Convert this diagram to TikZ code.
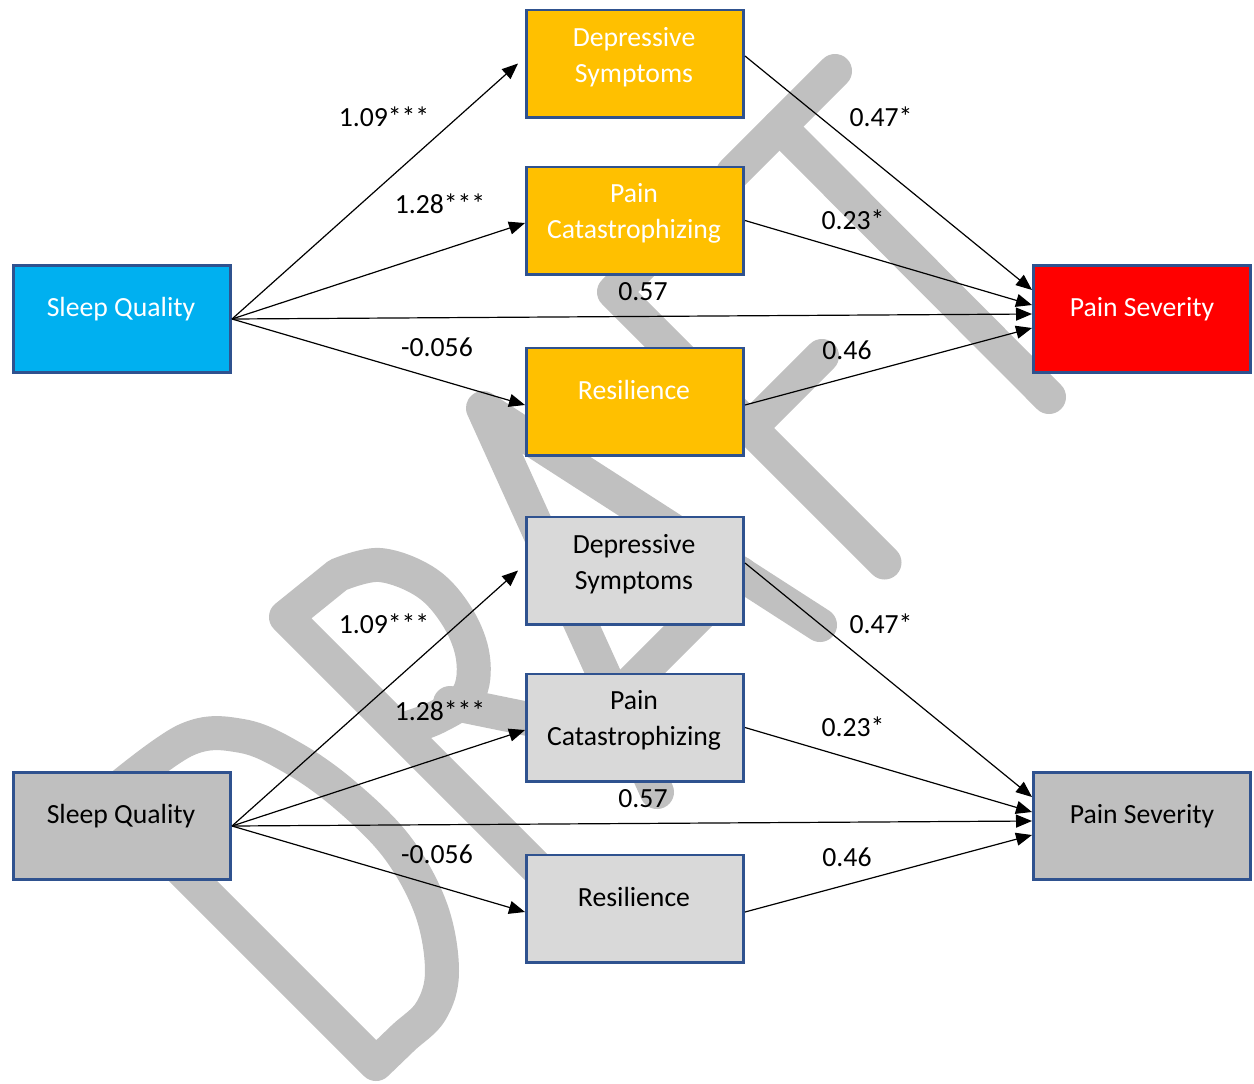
\documentclass[tikz,border=0pt]{standalone}
\usepackage{fontspec}
\setmainfont{Carlito}
\usetikzlibrary{arrows.meta}
\definecolor{wm}{RGB}{192,192,192}
\definecolor{bord}{RGB}{47,82,143}
\definecolor{cyanb}{RGB}{0,176,240}
\definecolor{goldb}{RGB}{255,192,0}
\definecolor{redb}{RGB}{255,0,0}
\definecolor{grayd}{RGB}{191,191,191}
\definecolor{grayl}{RGB}{217,217,217}
\begin{document}
\begin{tikzpicture}[x=0.5pt,y=-0.5pt,
  box/.style={draw=bord, line width=1.4pt, minimum width=108.6pt, minimum height=53.6pt, inner sep=0pt},
  wtxt/.style={font=\fontsize{13.85}{18}\selectfont, align=center, inner sep=0pt, text=white},
  btxt/.style={font=\fontsize{13.85}{18}\selectfont, align=center, inner sep=0pt, text=black},
  lab/.style={font=\fontsize{13.85}{18}\selectfont, inner sep=0pt},
  arr/.style={line width=0.6pt, -{Triangle[length=8pt,width=6.5pt]}},
  wmark/.style={draw=wm, line width=17pt, line cap=round, line join=round}
]
\useasboundingbox (0,0) rectangle (1254,1083);
\fill[white] (0,0) rectangle (1254,1083);

% ---------- DRAFT watermark ----------
% D
\draw[wmark] plot[smooth, tension=0.6] coordinates {(108.5,796.5) (186,740) (242,736) (293,758) (345,795) (397,847) (431,909) (442,971) (431,1011) (403,1038) (376,1064)} -- cycle;
% R
\draw[wmark] (557,888) -- (286,617) -- plot[smooth, tension=0.6] coordinates {(338,575) (380,565) (427,583) (458,618) (473,658) (468,695) (437,717) (399.5,730.5)};
\draw[wmark] (450,703) -- (690,752);
% A
\draw[wmark] (657,792) -- (483,408) -- (820,625);
\draw[wmark] (615,699) -- (740.5,573.5);
% F
\draw[wmark] (884.5,562.5) -- (614,292) -- (713,193);
\draw[wmark] (750,428) -- (822,356);
% T
\draw[wmark] (733,173) -- (835,71);
\draw[wmark] (779.5,126.5) -- (1049,397);

% ---------- top model ----------
\node[box, fill=cyanb] (sq1) at (122,319) {};
\node[box, fill=goldb] (dep1) at (635,63.5) {};
\node[box, fill=goldb] (pc1) at (635,220.5) {};
\node[box, fill=goldb] (res1) at (635,401.5) {};
\node[box, fill=redb] (ps1) at (1142,319) {};

\draw[arr] (sq1.east) -- ([xshift=-3.5pt]dep1.west);
\draw[arr] (sq1.east) -- ([yshift=-1.25pt]pc1.west);
\draw[arr] (sq1.east) -- ([yshift=2.5pt]ps1.west);
\draw[arr] (sq1.east) -- ([yshift=-1.75pt]res1.west);
\draw[arr] ([yshift=3.75pt]dep1.east) -- ([yshift=14.5pt]ps1.west);
\draw[arr] (pc1.east) -- ([yshift=7pt]ps1.west);
\draw[arr] ([yshift=-1.75pt]res1.east) -- ([yshift=-4.5pt]ps1.west);

\node[wtxt] (sq1t) at (121,309) {Sleep Quality};
\node[wtxt] (dep1t) at (634,57) {Depressive\\Symptoms};
\node[wtxt] (pc1t) at (634,213) {Pain\\Catastrophizing};
\node[wtxt] (res1t) at (634,390) {Resilience};
\node[wtxt] (ps1t) at (1142,309) {Pain Severity};

\node[lab] (a1) at (384,117) {1.09***};
\node[lab] (b1) at (440,204) {1.28***};
\node[lab] (c1) at (643,292) {0.57};
\node[lab] (d1) at (437,347) {-0.056};
\node[lab] (e1) at (881,117) {0.47*};
\node[lab] (f1) at (853,220) {0.23*};
\node[lab] (g1) at (847,350) {0.46};

% ---------- bottom model ----------
\node[box, fill=grayd] (sq2) at (122,826) {};
\node[box, fill=grayl] (dep2) at (635,570.5) {};
\node[box, fill=grayl] (pc2) at (635,727.5) {};
\node[box, fill=grayl] (res2) at (635,908.5) {};
\node[box, fill=grayd] (ps2) at (1142,826) {};

\draw[arr] (sq2.east) -- ([xshift=-3.5pt]dep2.west);
\draw[arr] (sq2.east) -- ([yshift=-1.25pt]pc2.west);
\draw[arr] (sq2.east) -- ([yshift=2.5pt]ps2.west);
\draw[arr] (sq2.east) -- ([yshift=-1.75pt]res2.west);
\draw[arr] ([yshift=3.75pt]dep2.east) -- ([yshift=14.5pt]ps2.west);
\draw[arr] (pc2.east) -- ([yshift=7pt]ps2.west);
\draw[arr] ([yshift=-1.75pt]res2.east) -- ([yshift=-4.5pt]ps2.west);

\node[btxt] (sq2t) at (121,816) {Sleep Quality};
\node[btxt] (dep2t) at (634,564) {Depressive\\Symptoms};
\node[btxt] (pc2t) at (634,720) {Pain\\Catastrophizing};
\node[btxt] (res2t) at (634,897) {Resilience};
\node[btxt] (ps2t) at (1142,816) {Pain Severity};

\node[lab] (a2) at (384,624) {1.09***};
\node[lab] (b2) at (440,711) {1.28***};
\node[lab] (c2) at (643,799) {0.57};
\node[lab] (d2) at (437,854) {-0.056};
\node[lab] (e2) at (881,624) {0.47*};
\node[lab] (f2) at (853,727) {0.23*};
\node[lab] (g2) at (847,857) {0.46};
\end{tikzpicture}
\end{document}
